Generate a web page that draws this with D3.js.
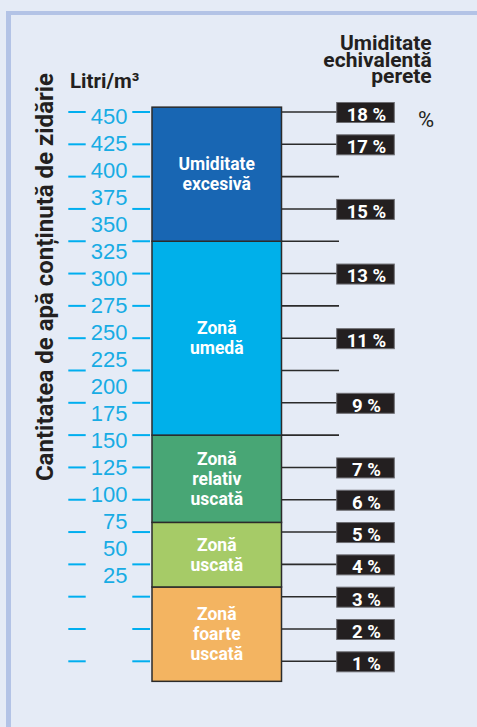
<!DOCTYPE html>
<html lang="ro">
<head>
<meta charset="UTF-8">
<title>Umiditate zidărie</title>
<script src="https://d3js.org/d3.v7.min.js"></script>
<style>
  html, body { margin: 0; padding: 0; background: #e5ebf6; }
  svg { display: block; }
</style>
</head>
<body>
<svg width="477" height="727"></svg>
<script>
// date
const percentLevels = [1, 2, 3, 4, 5, 6, 7, 8, 9, 10, 11, 12, 13, 14, 15, 16, 17, 18];
const percentLabels = [18, 17, 15, 13, 11, 9, 7, 6, 5, 4, 3, 2, 1];
const litreLabels = [450, 425, 400, 375, 350, 325, 300, 275, 250, 225, 200, 175, 150, 125, 100, 75, 50, 25];

const zoneNames = [
  ["Zonă", "foarte", "uscată"],
  ["Zonă", "uscată"],
  ["Zonă", "relativ", "uscată"],
  ["Zonă", "umedă"],
  ["Umiditate", "excesivă"]
];
const zoneFrom = [0.38, 3.3, 5.3, 8, 14];
const zoneTo   = [3.3, 5.3, 8, 14, 18.15];
const zoneColors = ["#f3b461", "#a6cb67", "#48a675", "#00b0ea", "#1866b3"];

const svg = d3.select("svg");

// scale procente (dreapta) si litri (stanga)
const y = d3.scaleLinear().domain([1, 18]).range([661.3, 112]);
const yL = d3.scaleLinear().domain([25, 450]).range([582.7, 124.3]);

const barX0 = 152, barX1 = 281.5;

// cadru
svg.append("rect").attr("x", 6).attr("y", 11).attr("width", 477).attr("height", 4).attr("fill", "#b3c3e6");
svg.append("rect").attr("x", 6).attr("y", 11).attr("width", 5).attr("height", 727).attr("fill", "#b3c3e6");

// titlu axa y
svg.append("text")
  .attr("transform", "translate(53,277) rotate(-90)")
  .attr("text-anchor", "middle")
  .attr("font-family", "Roboto, sans-serif")
  .attr("font-weight", 700)
  .attr("font-size", 24)
  .attr("fill", "#231f20")
  .text("Cantitatea de apă conținută de zidărie");

svg.append("text")
  .attr("x", 70).attr("y", 88)
  .attr("font-family", "Roboto, sans-serif")
  .attr("font-weight", 700)
  .attr("font-size", 20.5)
  .attr("fill", "#231f20")
  .text("Litri/m³");

const head = svg.append("text")
  .attr("text-anchor", "end")
  .attr("font-family", "Roboto, sans-serif")
  .attr("font-weight", 700)
  .attr("font-size", 21)
  .attr("fill", "#231f20");
["Umiditate", "echivalentă", "perete"].forEach((t, i) => {
  head.append("tspan").attr("x", 431.7).attr("y", 50 + i * 16.7).text(t);
});

svg.append("text")
  .attr("x", 426).attr("y", 126.5)
  .attr("text-anchor", "middle")
  .attr("font-family", "Roboto, sans-serif")
  .attr("font-size", 22)
  .attr("fill", "#231f20")
  .text("%");

// liniute albastre stanga
const leftTicks = svg.append("g").attr("stroke", "#00aeef").attr("stroke-width", 2);
percentLevels.forEach(p => {
  leftTicks.append("line").attr("x1", 68.3).attr("x2", 85.7).attr("y1", y(p)).attr("y2", y(p));
  leftTicks.append("line").attr("x1", 132.3).attr("x2", 150).attr("y1", y(p)).attr("y2", y(p));
});

svg.append("g")
  .selectAll("text")
  .data(litreLabels)
  .join("text")
  .attr("x", 127.5)
  .attr("y", d => yL(d))
  .attr("text-anchor", "end")
  .attr("font-family", "'Liberation Sans', Arial, sans-serif")
  .attr("font-size", 22)
  .attr("fill", "#18ace4")
  .text(d => d);

// linii dreapta
const rightTicks = svg.append("g").attr("stroke", "#2b2b2b").attr("stroke-width", 1.6);
percentLevels.forEach(p => {
  rightTicks.append("line").attr("x1", barX1).attr("x2", 339).attr("y1", y(p)).attr("y2", y(p));
});

// bara cu zone
const zones = svg.append("g");
zoneNames.forEach((lines, i) => {
  const top = y(zoneTo[i]), bot = y(zoneFrom[i]);
  zones.append("rect")
    .attr("x", barX0).attr("y", top)
    .attr("width", barX1 - barX0).attr("height", bot - top)
    .attr("fill", zoneColors[i])
    .attr("stroke", "#2b2b2b").attr("stroke-width", 1.5);
  const mid = (top + bot) / 2;
  const lh = 19.8;
  const first = mid - (lines.length - 1) * lh / 2 + 6;
  const t = zones.append("text")
    .attr("text-anchor", "middle")
    .attr("font-family", "Roboto, sans-serif")
    .attr("font-weight", 700)
    .attr("font-size", 17.5)
    .attr("fill", "#ffffff");
  lines.forEach((s, k) => {
    t.append("tspan").attr("x", (barX0 + barX1) / 2).attr("y", first + k * lh).text(s);
  });
});

// etichete procente
const boxes = svg.append("g")
  .selectAll("g")
  .data(percentLabels)
  .join("g")
  .attr("transform", d => `translate(336.7,${y(d) - 9.5})`);
boxes.append("rect")
  .attr("width", 57.6).attr("height", 20)
  .attr("fill", "#231f20")
  .attr("stroke", "#6d6d72").attr("stroke-width", 1);
boxes.append("text")
  .attr("x", 29.8).attr("y", 18.4)
  .attr("text-anchor", "middle")
  .attr("font-family", "Roboto, sans-serif")
  .attr("font-weight", 700)
  .attr("font-size", 18.5)
  .attr("fill", "#ffffff")
  .text(d => d + " %");
</script>
</body>
</html>
